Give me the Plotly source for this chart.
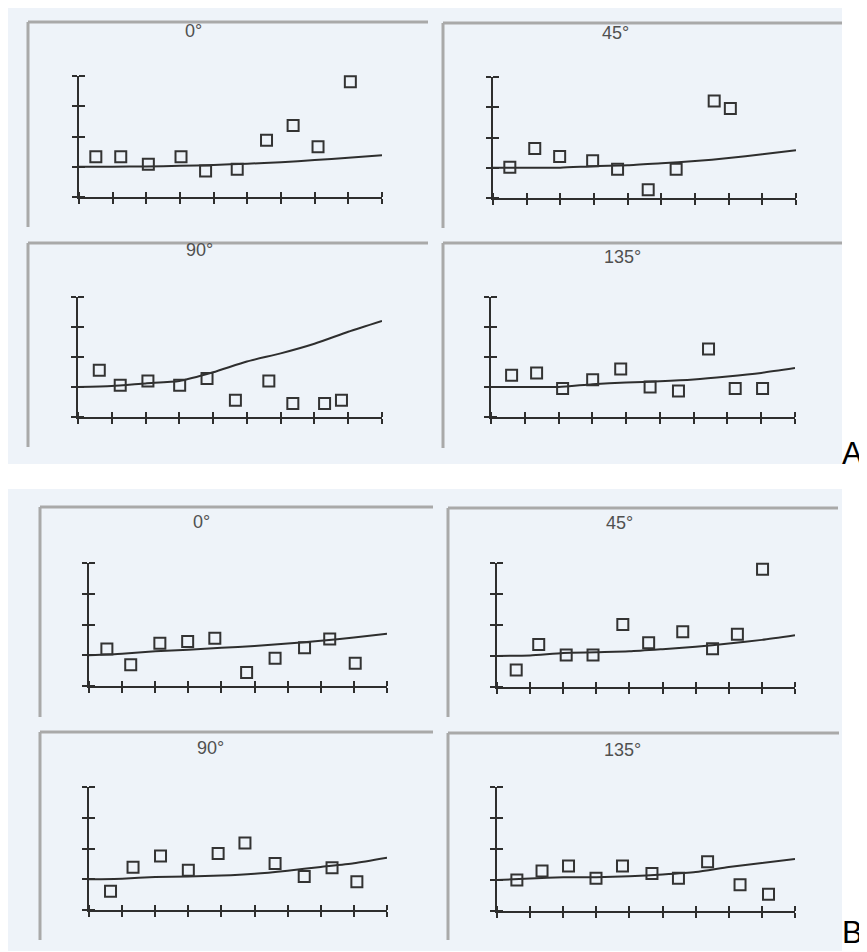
import plotly.graph_objects as go

# The page adds an 8 px body margin, so the figure is drawn 8 px smaller and
# every pixel position below (measured on the 867x952 reference) is shifted by it.
PAGE_W, PAGE_H = 867, 952
OFF = 8
W, H = PAGE_W - OFF, PAGE_H - OFF

# ---------------- data ----------------
X_TICKS = [0, 1, 2, 3, 4, 5, 6, 7, 8, 9]
Y_TICKS = [0, 1, 2, 3, 4]
LINE_X = [0, 1, 2, 3, 4, 5, 6, 7, 8, 9]

A0_x = [0.50, 1.24, 2.06, 3.03, 3.76, 4.70, 5.57, 6.36, 7.10, 8.06]
A0_y = [1.33, 1.33, 1.08, 1.33, 0.86, 0.92, 1.88, 2.36, 1.66, 3.81]
A0_line = [1.0, 1.0, 1.01, 1.03, 1.06, 1.10, 1.15, 1.22, 1.30, 1.38]

A45_x = [0.50, 1.24, 1.98, 2.96, 3.70, 4.61, 5.44, 6.57, 7.05]
A45_y = [1.02, 1.64, 1.37, 1.23, 0.95, 0.27, 0.95, 3.21, 2.96]
A45_line = [1.0, 1.0, 1.0, 1.05, 1.08, 1.15, 1.22, 1.32, 1.45, 1.58]

A90_x = [0.63, 1.25, 2.07, 3.01, 3.82, 4.66, 5.65, 6.36, 7.30, 7.80]
A90_y = [1.56, 1.06, 1.20, 1.06, 1.28, 0.56, 1.20, 0.45, 0.45, 0.56]
A90_line = [1.0, 1.03, 1.12, 1.20, 1.49, 1.85, 2.12, 2.44, 2.84, 3.20]

A135_x = [0.61, 1.35, 2.12, 3.01, 3.84, 4.71, 5.55, 6.44, 7.23, 8.04]
A135_y = [1.39, 1.47, 0.95, 1.24, 1.60, 1.00, 0.87, 2.27, 0.95, 0.95]
A135_line = [1.0, 1.0, 1.0, 1.09, 1.15, 1.19, 1.25, 1.35, 1.47, 1.63]

B0_x = [0.54, 1.26, 2.14, 2.98, 3.80, 4.76, 5.62, 6.51, 7.27, 8.04]
B0_y = [1.20, 0.69, 1.39, 1.45, 1.55, 0.44, 0.90, 1.24, 1.53, 0.74]
B0_line = [1.0, 1.05, 1.13, 1.18, 1.24, 1.30, 1.38, 1.47, 1.58, 1.70]

B45_x = [0.58, 1.26, 2.09, 2.90, 3.80, 4.58, 5.61, 6.51, 7.26, 8.02]
B45_y = [0.55, 1.37, 1.03, 1.03, 2.02, 1.43, 1.78, 1.23, 1.70, 3.80]
B45_line = [1.0, 1.02, 1.10, 1.12, 1.15, 1.22, 1.30, 1.40, 1.52, 1.67]

B90_x = [0.65, 1.33, 2.16, 3.00, 3.90, 4.71, 5.62, 6.50, 7.34, 8.09]
B90_y = [0.61, 1.39, 1.76, 1.29, 1.84, 2.18, 1.51, 1.09, 1.37, 0.92]
B90_line = [1.0, 1.02, 1.07, 1.09, 1.12, 1.18, 1.28, 1.40, 1.52, 1.70]

B135_x = [0.60, 1.36, 2.16, 2.99, 3.79, 4.68, 5.48, 6.36, 7.34, 8.20]
B135_y = [1.00, 1.29, 1.45, 1.06, 1.45, 1.21, 1.06, 1.59, 0.85, 0.54]
B135_line = [1.0, 1.05, 1.09, 1.09, 1.12, 1.18, 1.26, 1.42, 1.55, 1.68]

TITLES = ["0°", "45°", "90°", "135°", "0°", "45°", "90°", "135°"]
GROUP_LABELS = ["A", "B"]

# ---------------- layout (pixel geometry on the reference page) ----------------
# box: (x at 0, x at 9, y at 0, y at 4); frame: (left, top, right, bottom)
panels = [
    dict(mx=A0_x, my=A0_y, line=A0_line, box=(79, 382, 197, 76), frame=(28, 22, 428, 227), tpos=(193, 31)),
    dict(mx=A45_x, my=A45_y, line=A45_line, box=(493, 796, 198, 77), frame=(443, 23, 842, 228), tpos=(615, 33)),
    dict(mx=A90_x, my=A90_y, line=A90_line, box=(78, 382, 417, 297), frame=(28, 243, 428, 447), tpos=(199, 250)),
    dict(mx=A135_x, my=A135_y, line=A135_line, box=(491, 795, 417, 297), frame=(443, 243, 842, 448), tpos=(622, 257)),
    dict(mx=B0_x, my=B0_y, line=B0_line, box=(89, 387, 686, 563), frame=(40, 507, 433, 717), tpos=(201, 522)),
    dict(mx=B45_x, my=B45_y, line=B45_line, box=(497, 795, 687, 563), frame=(448, 508, 838, 717), tpos=(619, 523)),
    dict(mx=B90_x, my=B90_y, line=B90_line, box=(89, 387, 910, 787), frame=(40, 732, 433, 940), tpos=(210, 748)),
    dict(mx=B135_x, my=B135_y, line=B135_line, box=(497, 795, 911, 787), frame=(448, 733, 839, 940), tpos=(622, 750)),
]

AX_COLOR = "#2e2e2e"
FRAME_COLOR = "#a9a9a9"
BG_COLOR = "#eef3f9"
FONT = "Liberation Sans, Arial, sans-serif"


def px(x):
    return (x - OFF) / W


def py(y):
    return 1 - (y - OFF) / H


fig = go.Figure()
layout = dict(
    width=W, height=H,
    margin=dict(l=0, r=0, t=0, b=0),
    paper_bgcolor="white",
    plot_bgcolor="rgba(0,0,0,0)",
    showlegend=False,
    shapes=[],
    annotations=[],
)

# light scanned background regions
layout["shapes"].append(dict(type="rect", xref="paper", yref="paper", layer="below",
                             x0=px(8), x1=px(842), y0=py(464), y1=py(8),
                             fillcolor=BG_COLOR, line=dict(width=0)))
layout["shapes"].append(dict(type="rect", xref="paper", yref="paper", layer="below",
                             x0=px(8), x1=px(842), y0=py(951), y1=py(489),
                             fillcolor=BG_COLOR, line=dict(width=0)))

for i, p in enumerate(panels):
    k = i + 1
    xa = "xaxis" if k == 1 else f"xaxis{k}"
    ya = "yaxis" if k == 1 else f"yaxis{k}"
    xr = "x" if k == 1 else f"x{k}"
    yr = "y" if k == 1 else f"y{k}"
    x0, x9, y0, y4 = p["box"]
    common = dict(showline=True, linecolor=AX_COLOR, linewidth=2,
                  ticks="outside", ticklen=5, tickwidth=2, tickcolor=AX_COLOR,
                  showticklabels=False, showgrid=False, zeroline=False, fixedrange=True)
    layout[xa] = dict(domain=[px(x0), px(x9)], range=[0, 9], anchor=yr,
                      tickmode="array", tickvals=X_TICKS,
                      minor=dict(ticks="inside", tickmode="array",
                                 tickvals=[v + 1e-4 for v in X_TICKS],
                                 ticklen=5, tickwidth=2, tickcolor=AX_COLOR, showgrid=False),
                      **common)
    layout[ya] = dict(domain=[py(y0), py(y4)], range=[0, 4], anchor=xr,
                      tickmode="array", tickvals=Y_TICKS,
                      minor=dict(ticks="inside", tickmode="array",
                                 tickvals=[v + 1e-4 for v in Y_TICKS],
                                 ticklen=6, tickwidth=2, tickcolor=AX_COLOR, showgrid=False),
                      **common)

    fig.add_trace(go.Scatter(x=LINE_X, y=p["line"], mode="lines", xaxis=xr, yaxis=yr,
                             line=dict(color=AX_COLOR, width=2, shape="spline", smoothing=0.6),
                             hoverinfo="skip", cliponaxis=False))
    fig.add_trace(go.Scatter(x=p["mx"], y=p["my"], mode="markers", xaxis=xr, yaxis=yr,
                             marker=dict(symbol="square-open", size=11, color="#333333",
                                         line=dict(width=2)),
                             cliponaxis=False))

    fl, ft, fr, fb = p["frame"]
    layout["shapes"].append(dict(type="line", xref="paper", yref="paper", layer="below",
                                 x0=px(fl), x1=px(fr), y0=py(ft), y1=py(ft),
                                 line=dict(color=FRAME_COLOR, width=3)))
    layout["shapes"].append(dict(type="line", xref="paper", yref="paper", layer="below",
                                 x0=px(fl), x1=px(fl), y0=py(ft), y1=py(fb),
                                 line=dict(color=FRAME_COLOR, width=3)))

    tx, ty = p["tpos"]
    layout["annotations"].append(dict(text=TITLES[i], xref="paper", yref="paper",
                                      x=px(tx), y=py(ty), xanchor="center", yanchor="middle",
                                      showarrow=False,
                                      font=dict(family=FONT, size=18, color="#505050")))

layout["annotations"].append(dict(text=GROUP_LABELS[0], xref="paper", yref="paper",
                                  x=px(852), y=py(453), xanchor="center", yanchor="middle",
                                  showarrow=False, font=dict(family=FONT, size=31, color="black")))
layout["annotations"].append(dict(text=GROUP_LABELS[1], xref="paper", yref="paper",
                                  x=px(852), y=0, xanchor="center", yanchor="bottom",
                                  showarrow=False, font=dict(family=FONT, size=31, color="black")))

fig.update_layout(**layout)
fig.write_html("out.html")
